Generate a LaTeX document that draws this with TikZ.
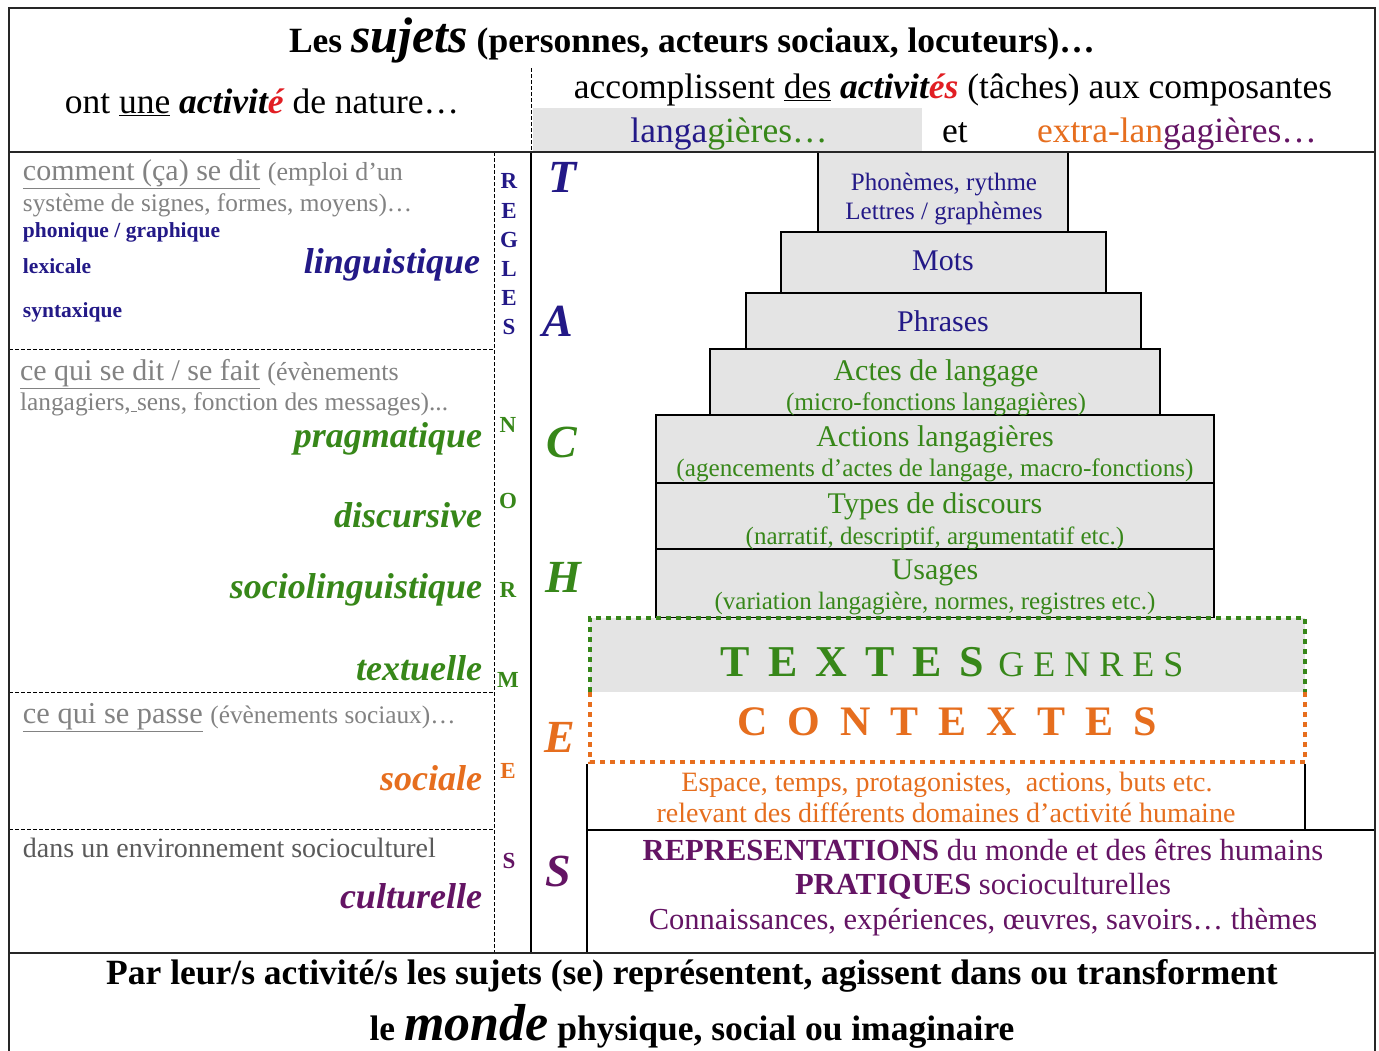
\documentclass[tikz,border=0pt]{standalone}
\usepackage{fontspec}
\setmainfont{Liberation Serif}
\definecolor{navy}{RGB}{35,25,135}
\definecolor{dgreen}{RGB}{55,135,25}
\definecolor{orng}{RGB}{230,110,30}
\definecolor{purp}{RGB}{100,20,100}
\definecolor{gtxt}{RGB}{130,130,130}
\definecolor{gtxtd}{RGB}{90,90,90}
\definecolor{boxgray}{RGB}{228,228,228}
\definecolor{redacc}{RGB}{225,30,35}
\newcommand\fsz[1]{\fontsize{#1}{#1}\selectfont}
\newcommand\gk{\kern18pt }
\newcommand\gc{\kern20pt }
\newcommand\gs{\kern9pt }
\begin{document}
\begin{tikzpicture}[x=1pt,y=-1pt,
  t/.style={inner sep=0pt, outer sep=0pt, anchor=base},
  tl/.style={inner sep=0pt, outer sep=0pt, anchor=base west},
  tr/.style={inner sep=0pt, outer sep=0pt, anchor=base east},
  lt/.style={inner sep=0pt, outer sep=0pt, anchor=center, font=\fsz{23}\bfseries},
  bigl/.style={inner sep=0pt, outer sep=0pt, anchor=center, font=\fsz{46}\bfseries\itshape},
  lvl/.style={draw=black, line width=1.1pt, fill=boxgray},
  frm/.style={draw=black!85, line width=1.8pt},
  thin/.style={draw=black, line width=1.1pt},
  dsh/.style={draw=black, line width=1pt, dash pattern=on 4pt off 2pt},
  grdot/.style={draw=dgreen, line width=4pt, dash pattern=on 5pt off 5pt},
  ordot/.style={draw=orng, line width=4pt, dash pattern=on 5pt off 5pt}]
\useasboundingbox (0,0) rectangle (1379,1050);
\fill[white] (0,0) rectangle (1379,1050);

% ---------- header ----------
\fill[boxgray] (533,108) rectangle (922,151);
\node[t] (title) at (692,52) {\fsz{35.5}\bfseries Les {\fsz{50}\itshape sujets} (personnes, acteurs sociaux, locuteurs)…};
\node[t] (nat) at (262,113) {\fsz{35.5}ont \underline{une} {\bfseries\itshape activit\textcolor{redacc}{é}} de nature…};
\node[t] (acc) at (953,98) {\fsz{35.5}accomplissent \underline{des} {\bfseries\itshape activit\textcolor{redacc}{és}} (tâches) aux composantes};
\node[t] (lang) at (729,142) {\fsz{35.5}\textcolor{navy}{langa}\textcolor{dgreen}{gières…}};
\node[t] (et) at (955,142) {\fsz{35.5}et};
\node[t] (extra) at (1177,142) {\fsz{35.5}\textcolor{orng}{extra-lan}\textcolor{purp}{gagières…}};

% ---------- pyramid ----------
\draw[lvl] (818,152) rectangle (1068,232);
\draw[lvl] (781,232) rectangle (1106,293);
\draw[lvl] (746,293) rectangle (1141,349);
\draw[lvl] (710,349) rectangle (1160,415);
\draw[lvl] (656,415) rectangle (1214,483);
\draw[lvl] (656,483) rectangle (1214,549);
\draw[lvl] (656,549) rectangle (1214,618);
\fill[boxgray] (590,618) rectangle (1305,692);
\fill[white] (590,692) rectangle (1305,762);

\node[t] (p1) at (944,190) {\color{navy}\fsz{25}Phonèmes, rythme};
\node[t] (p1b) at (944,219) {\color{navy}\fsz{25}Lettres / graphèmes};
\node[t] (p2) at (943,270) {\color{navy}\fsz{30}Mots};
\node[t] (p3) at (943,331) {\color{navy}\fsz{30}Phrases};
\node[t] (p4) at (936,380) {\color{dgreen}\fsz{30}Actes de langage};
\node[t] (p4b) at (936,410) {\color{dgreen}\fsz{25.3}(micro-fonctions langagières)};
\node[t] (p5) at (935,446) {\color{dgreen}\fsz{30}Actions langagières};
\node[t] (p5b) at (935,476) {\color{dgreen}\fsz{25.2}(agencements d’actes de langage, macro-fonctions)};
\node[t] (p6) at (935,513) {\color{dgreen}\fsz{30}Types de discours};
\node[t] (p6b) at (935,544) {\color{dgreen}\fsz{25}(narratif, descriptif, argumentatif etc.)};
\node[t] (p7) at (935,579) {\color{dgreen}\fsz{30}Usages};
\node[t] (p7b) at (935,609) {\color{dgreen}\fsz{25}(variation langagière, normes, registres etc.)};

\node[t] (textes) at (952,676) {\color{dgreen}\fsz{44}\bfseries T\gk E\gk X\gk T\gk E\gk S\kern14pt{\mdseries\fsz{36}G\gs E\gs N\gs R\gs E\gs S}};
\node[t] (contextes) at (947,735) {\color{orng}\fsz{42}\bfseries C\gc O\gc N\gc T\gc E\gc X\gc T\gc E\gc S};

\draw[grdot] (590,692) -- (590,618) -- (1305,618) -- (1305,692);
\draw[ordot] (590,692) -- (590,762) -- (1305,762) -- (1305,692);

\node[t] (esp) at (947,791) {\color{orng}\fsz{28}Espace, temps, protagonistes,\ \ actions, buts etc.};
\node[t] (rel) at (946,822) {\color{orng}\fsz{28}relevant des différents domaines d’activité humaine};

\node[t] (rep) at (983,860) {\color{purp}\fsz{30.6}\textbf{REPRESENTATIONS} du monde et des êtres humains};
\node[t] (prat) at (983,894) {\color{purp}\fsz{30.6}\textbf{PRATIQUES} socioculturelles};
\node[t] (conn) at (983,929) {\color{purp}\fsz{30.5}Connaissances, expériences, œuvres, savoirs… thèmes};

% ---------- lines ----------
\draw[thin] (587,764) -- (587,953);
\draw[thin] (1305,764) -- (1305,830);
\draw[thin] (587,830) -- (1375,830);
\draw[thin] (531,152) -- (531,953);
\draw[dsh] (531,68) -- (531,152);
\draw[dsh] (494,152) -- (494,953);
\draw[dsh] (9,349) -- (494,349);
\draw[dsh] (9,692) -- (494,692);
\draw[dsh] (9,829) -- (494,829);
\draw[frm] (9,1052) -- (9,8) -- (1375,8) -- (1375,1052);
\draw[frm] (9,152) -- (1375,152);
\draw[frm] (9,953) -- (1375,953);

% ---------- left column ----------
\node[tl] (c1) at (23,180) {\color{gtxt}\fsz{30}\underline{comment (ça) se dit} {\fsz{26}(emploi d’un}};
\node[tl] (c2) at (23,211) {\color{gtxt}\fsz{25.3}système de signes, formes, moyens)…};
\node[tl] (phon) at (23,237) {\color{navy}\fsz{21.5}\bfseries phonique / graphique};
\node[tl] (lex) at (23,273) {\color{navy}\fsz{21.5}\bfseries lexicale};
\node[tl] (syn) at (23,317) {\color{navy}\fsz{21.5}\bfseries syntaxique};
\node[tr] (ling) at (480,273) {\color{navy}\fsz{36}\bfseries\itshape linguistique};

\node[tl] (d1) at (20,380) {\color{gtxt}\fsz{30}\underline{ce qui se dit / se fait} {\fsz{26}(évènements}};
\node[tl] (d2) at (20,410) {\color{gtxt}\fsz{25.4}langagiers,\underline{\ }sens, fonction des messages)...};
\node[tr] (prag) at (482,447) {\color{dgreen}\fsz{36}\bfseries\itshape pragmatique};
\node[tr] (disc) at (482,527) {\color{dgreen}\fsz{36}\bfseries\itshape discursive};
\node[tr] (socl) at (482,598) {\color{dgreen}\fsz{36}\bfseries\itshape sociolinguistique};
\node[tr] (textu) at (482,680) {\color{dgreen}\fsz{36}\bfseries\itshape textuelle};

\node[tl] (e1) at (23,723) {\color{gtxt}\fsz{30.4}\underline{ce qui se passe} {\fsz{25.3}(évènements sociaux)…}};
\node[tr] (soc) at (482,790) {\color{orng}\fsz{36}\bfseries\itshape sociale};
\node[tl] (f1) at (23,857) {\color{gtxtd}\fsz{28}dans un environnement socioculturel};
\node[tr] (cult) at (482,908) {\color{purp}\fsz{36}\bfseries\itshape culturelle};

% ---------- REGLES / NORMES ----------
\node[lt, text=navy] (r1) at (509,181) {R};
\node[lt, text=navy] (r2) at (509,211) {E};
\node[lt, text=navy] (r3) at (509,240) {G};
\node[lt, text=navy] (r4) at (509,269) {L};
\node[lt, text=navy] (r5) at (509,298) {E};
\node[lt, text=navy] (r6) at (509,327) {S};
\node[lt, text=dgreen] (n1) at (508,425) {N};
\node[lt, text=dgreen] (n2) at (508,501) {O};
\node[lt, text=dgreen] (n3) at (508,590) {R};
\node[lt, text=dgreen] (n4) at (508,680) {M};
\node[lt, text=orng] (n5) at (508,771) {E};
\node[lt, text=purp] (n6) at (509,861) {S};

% ---------- TACHES ----------
\node[bigl, text=navy] (tT) at (563,177) {T};
\node[bigl, text=navy] (tA) at (558,321) {A};
\node[bigl, text=dgreen] (tC) at (562,442) {C};
\node[bigl, text=dgreen] (tH) at (563,577) {H};
\node[bigl, text=orng] (tE) at (560,737) {E};
\node[bigl, text=purp] (tS) at (558,871) {S};

% ---------- bottom ----------
\node[t] (par) at (692,984) {\fsz{35.5}\bfseries Par leur/s activité/s les sujets (se) représentent, agissent dans ou transforment};
\node[t] (monde) at (692,1040) {\fsz{35.5}\bfseries le {\fsz{52}\itshape monde} physique, social ou imaginaire};
\end{tikzpicture}
\end{document}
